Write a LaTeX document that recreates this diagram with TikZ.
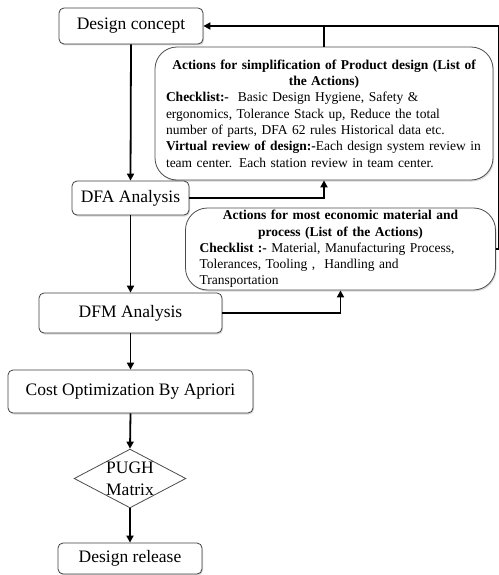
\documentclass[tikz,border=0pt]{standalone}
\usepackage{fontspec}
\setmainfont{Liberation Serif}
\usetikzlibrary{arrows.meta,shapes.geometric,shadows}
\begin{document}
\begin{tikzpicture}[x=1pt,y=-1pt,
  stepbox/.style={draw=black!75,line width=0.8pt,rounded corners=5pt,fill=white,
    drop shadow={shadow xshift=1pt,shadow yshift=-1.5pt,opacity=0.3},
    font=\fontsize{17.5}{22}\selectfont,inner sep=0pt},
  actbox/.style={draw=black!70,line width=0.8pt,rounded corners=22pt,fill=white,
    drop shadow={shadow xshift=1pt,shadow yshift=-1.5pt,opacity=0.3},
    font=\fontsize{13.5}{16.3}\selectfont,align=left,inner xsep=11pt,inner ysep=0pt},
  decbox/.style={diamond,draw=black!70,line width=0.8pt,fill=white,aspect=1.9,
    inner sep=0pt,align=center,font=\fontsize{17.5}{22}\selectfont},
  flow/.style={line width=1.8pt,-{Triangle[length=7pt,width=7pt]}},
  link/.style={line width=1.8pt}]
\useasboundingbox (0,0) rectangle (498,575);
\node[stepbox,minimum width=144pt,minimum height=36pt] (concept) at (131,26) {Design concept};
\node[actbox,text width=316pt,minimum height=133pt] (simp) at (324,113.5)
  {{\centering\bfseries Actions for simplification of Product design (List of\\the Actions)\par}
   \textbf{Checklist:-}~ Basic Design Hygiene, Safety \&\\
   ergonomics, Tolerance Stack up, Reduce the total\\
   number of parts, DFA 62 rules Historical data etc.\\
   \textbf{Virtual review of design:-}Each design system review in\\
   team center. Each station review in team center.};
\node[stepbox,minimum width=117pt,minimum height=34pt] (dfa) at (130.5,198) {DFA Analysis};
\node[actbox,text width=282pt,minimum height=82pt,inner xsep=14pt] (econ) at (340.5,249)
  {{\centering\bfseries Actions for most economic material and\\process (List of the Actions)\par}
   \textbf{Checklist :-} Material, Manufacturing Process,\\
   Tolerances, Tooling ,~ Handling and\\
   Transportation};
\node[stepbox,minimum width=183pt,minimum height=40pt] (dfm) at (130.5,313) {DFM Analysis};
\node[stepbox,minimum width=245pt,minimum height=43pt] (cost) at (130.5,391.5) {Cost Optimization By Apriori};
\node[decbox] (pugh) at (130,478.5) {PUGH\\Matrix};
\node[stepbox,minimum width=144pt,minimum height=31pt] (release) at (130,558.5) {Design release};
\draw[flow] (concept.south) -- (dfa.north);
\draw[flow] (dfa.south) -- (dfm.north);
\draw[flow] (dfm.south) -- (cost.north);
\draw[flow] (cost.south) -- (pugh.north);
\draw[flow] (pugh.south) -- (release.north);
\draw[flow] (dfa.east) -| (simp.south);
\draw[flow] (dfm.east) -| (econ.south);
\draw[flow] (econ.east) -- ++(3,0) |- (concept.east);
\draw[link] (simp.north) -- (simp.north |- concept.east);
\end{tikzpicture}
\end{document}
